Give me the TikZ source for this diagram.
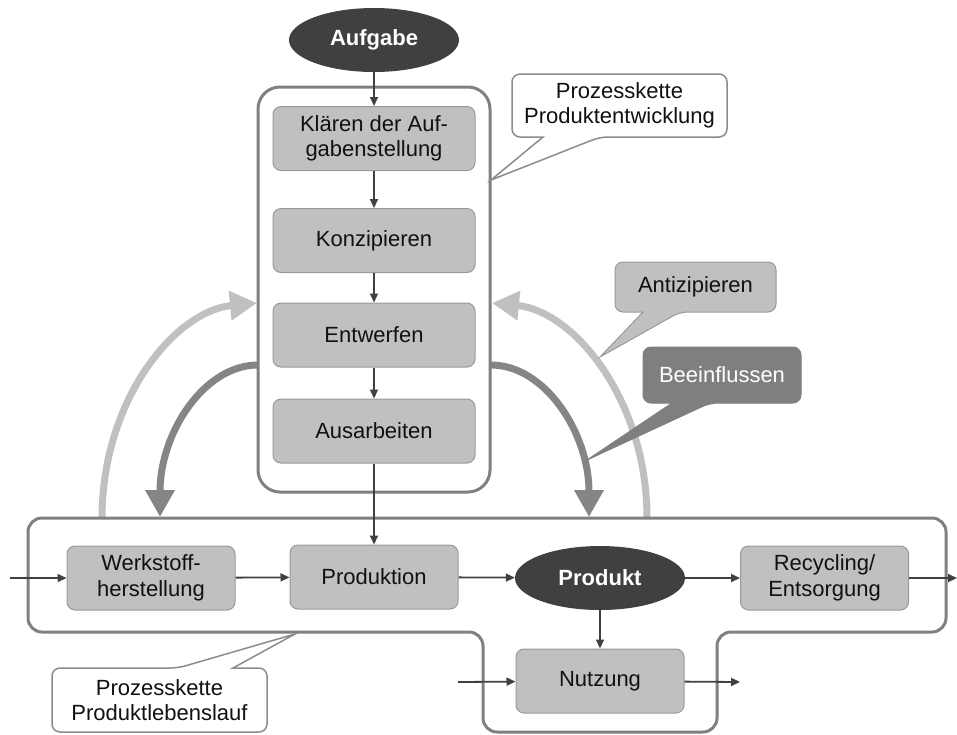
\documentclass[tikz,border=0pt]{standalone}
\usepackage{fontspec}
\setmainfont{Liberation Sans}
\usetikzlibrary{arrows.meta,shapes.geometric}

\definecolor{frameline}{HTML}{808080}
\definecolor{boxfill}{HTML}{C0C0C0}
\definecolor{boxline}{HTML}{999999}
\definecolor{ovalfill}{HTML}{404040}
\definecolor{flowline}{HTML}{404040}
\definecolor{textdark}{HTML}{111111}
\definecolor{lightarc}{HTML}{C0C0C0}
\definecolor{darkarc}{HTML}{858585}
\definecolor{noteline}{HTML}{8C8C8C}
\definecolor{darknote}{HTML}{7F7F7F}

\begin{document}
\begin{tikzpicture}[x=1pt,y=-1pt,
  font=\fontsize{22}{25.5}\selectfont,
  stepbox/.style={draw=boxline, line width=1pt, fill=boxfill, rounded corners=8pt,
    minimum height=64pt, inner sep=0pt, align=center, text=textdark},
  widebox/.style={stepbox, minimum width=202pt},
  narrowbox/.style={stepbox, minimum width=168pt},
  oval/.style={ellipse, fill=ovalfill, minimum width=170pt, minimum height=64pt,
    inner sep=0pt, text=white, font=\fontsize{22}{25.5}\selectfont\bfseries},
  flow/.style={draw=flowline, line width=1.8pt, -{Triangle[length=9pt,width=8pt]}},
  chain/.style={draw=frameline, line width=3pt, rounded corners=14pt},
  whitenote/.style={draw=noteline, line width=1.5pt, fill=white},
  arcarrow/.style={line width=7pt, -{Triangle[length=27pt,width=28pt]}},
]
\useasboundingbox (0,0) rectangle (957,734);

% ---- curved feedback arrows (anticipate / influence) ----
\draw[arcarrow, lightarc] (102,518) .. controls (102,400) and (175,311) .. (257,303);
\draw[arcarrow, lightarc] (647,518) .. controls (647,400) and (574,311) .. (492,303);
\draw[arcarrow, darkarc] (258,365) .. controls (204,365) and (160,433) .. (160,517);
\draw[arcarrow, darkarc] (491,365) .. controls (545,365) and (589,433) .. (589,517);

% ---- process chain frames ----
\draw[chain, rounded corners=22pt] (258,87) rectangle (490,492);
\draw[chain] (28,518) -- (946,518) -- (946,632) -- (717,632) -- (717,732)
  -- (483,732) -- (483,632) -- (28,632) -- cycle;

% ---- product development ----
\node[oval] (aufgabe) at (374,40) {Aufgabe};
\node[widebox] (klaeren) at (374,138.5) {Klären der Auf-\\gabenstellung};
\node[widebox] (konz) at (374,240.5) {Konzipieren};
\node[widebox] (entw) at (374,335) {Entwerfen};
\node[widebox] (ausarb) at (374,431) {Ausarbeiten};

% ---- product life cycle ----
\node[narrowbox] (werk) at (151,578) {Werkstoff-\\herstellung};
\node[narrowbox] (prod) at (374,577) {Produktion};
\node[oval] (produkt) at (600,578) {Produkt};
\node[narrowbox] (recyc) at (824.5,578) {Recycling/\\Entsorgung};
\node[narrowbox] (nutz) at (600,681) {Nutzung};

\coordinate (in1) at (10,578);
\coordinate (out1) at (957,578);
\coordinate (in2) at (458,682);
\coordinate (out2) at (740,682);

% ---- connectors ----
\draw[flow] (aufgabe) -- (klaeren);
\draw[flow] (klaeren) -- (konz);
\draw[flow] (konz) -- (entw);
\draw[flow] (entw) -- (ausarb);
\draw[flow] (ausarb) -- (prod);
\draw[flow] (in1) -- (werk);
\draw[flow] (werk) -- (prod);
\draw[flow] (prod) -- (produkt);
\draw[flow] (produkt) -- (recyc);
\draw[flow] (recyc) -- (out1);
\draw[flow] (produkt) -- (nutz);
\draw[flow] (in2) -- (nutz);
\draw[flow] (nutz) -- (out2);

% ---- callouts ----
\draw[whitenote] (512,105) [rounded corners=8pt] -- (512,74) -- (727,74) -- (727,137)
  -- (600,137) [sharp corners] -- (491,180) -- (543,137) [rounded corners=8pt]
  -- (512,137) -- cycle;
\node[align=center, text=textdark] (pe) at (619.5,105.5)
  {Prozesskette\\Produktentwicklung};

\draw[whitenote] (52,700) [rounded corners=8pt] -- (52,668) -- (178,668) [sharp corners]
  -- (295,634) -- (233,668) [rounded corners=8pt] -- (267,668) -- (267,732)
  -- (52,732) -- cycle;
\node[align=center, text=textdark] (pl) at (159.5,700)
  {Prozesskette\\Produktlebenslauf};

\draw[draw=boxline, line width=1pt, fill=boxfill] (615,287) [rounded corners=8pt]
  -- (615,262) -- (776,262) -- (776,312) -- (680,312) [sharp corners] -- (600,357)
  -- (643,312) [rounded corners=8pt] -- (615,312) -- cycle;
\node[text=textdark] (anti) at (695.5,287) {Antizipieren};

\draw[draw=darknote, line width=1pt, fill=darknote] (643,375) [rounded corners=8pt]
  -- (643,347) -- (801,347) -- (801,403) -- (710,403) [sharp corners] -- (587,460)
  -- (672,403) [rounded corners=8pt] -- (643,403) -- cycle;
\node[text=white] (beein) at (722,375) {Beeinflussen};

\end{tikzpicture}
\end{document}
